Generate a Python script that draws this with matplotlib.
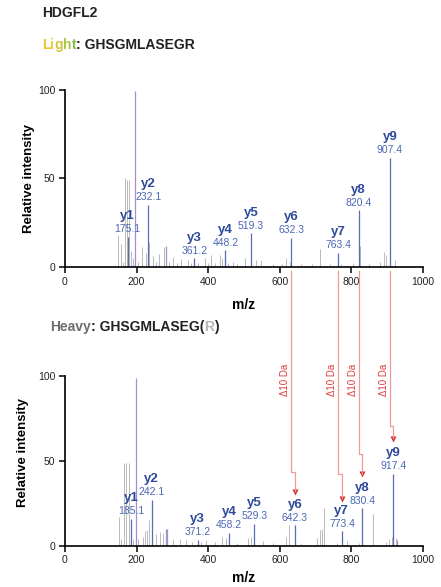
import matplotlib
matplotlib.use("Agg")
import matplotlib.pyplot as plt
from matplotlib.lines import Line2D

plt.rcParams["font.family"] = ["Liberation Sans", "DejaVu Sans"]

# -------------------------
# Data
# -------------------------
ion_names = ["y1", "y2", "y3", "y4", "y5", "y6", "y7", "y8", "y9"]

light_ion_mz = [175.1, 232.1, 361.2, 448.2, 519.3, 632.3, 763.4, 820.4, 907.4]
light_ion_int = [17, 35, 5, 9.5, 19, 16.5, 8, 32, 61.5]

heavy_ion_mz = [185.1, 242.1, 371.2, 458.2, 529.3, 642.3, 773.4, 830.4, 917.4]
heavy_ion_int = [16, 27, 3.5, 7.7, 13, 12, 8.5, 22, 42.5]

# base peak (purple) and other purple-ish peaks
light_base_mz = [196, 283]
light_base_int = [99, 12]
heavy_base_mz = [197, 281, 284, 928]
heavy_base_int = [99, 10, 10, 3.5]

# unassigned peaks (grey)
light_bg_mz = [148, 157, 162, 167, 172, 179, 185, 190, 205, 216, 225, 235, 246,
               255, 262, 276, 290, 302, 312, 325, 343, 352, 372, 390, 400, 409,
               420, 432, 438, 455, 469, 480, 502, 520, 534, 548, 580, 605, 618,
               628, 660, 690, 713, 740, 770, 804, 823, 850, 879, 890, 898, 909,
               921]
light_bg_int = [18, 13, 3, 50, 49, 49, 9, 5, 3, 11, 8, 14, 6,
                3, 7.5, 11, 3, 5.5, 2, 4.7, 4, 2, 2.5, 5, 2, 7,
                2, 6.5, 5, 2, 3, 1.5, 5, 1.5, 4, 4, 1.5, 1.5, 5,
                3, 1.5, 1.5, 10, 1.5, 1.5, 2, 12, 1.5, 3, 8.5, 6.5, 24,
                4]

heavy_bg_mz = [150, 157, 164, 171, 178, 190, 203, 217, 224, 230, 234, 255,
               266, 275, 301, 320, 338, 355, 380, 394, 420, 439, 450, 480,
               510, 519, 552, 580, 617, 626, 660, 705, 713, 718, 724, 760,
               789, 820, 859, 896, 905, 914, 924]
heavy_bg_int = [17, 4, 49, 49, 49, 4, 4, 5, 8.6, 9, 15, 7,
                8, 7.7, 4, 3.7, 3.3, 2, 2, 3.3, 2, 5.3, 4.3, 1.5,
                4.3, 5.3, 3, 1.5, 5.3, 12, 1.5, 4.3, 9, 9.6, 22, 1.5,
                3, 1.5, 18.5, 2.4, 3.7, 5, 4.3]

# arrows: level of the step and of the arrow tip, in heavy panel units
step_levels = [43.5, 42, 54, 70.5]
tip_levels = [30, 26, 40.5, 61.5]
shifted = ["y6", "y7", "y8", "y9"]

W, H = 441, 587
fig = plt.figure(figsize=(W / 100, H / 100), dpi=100)

ax_l = fig.add_axes([65 / W, 1 - 267 / H, 358 / W, 177.5 / H])
ax_h = fig.add_axes([65 / W, 1 - 545.7 / H, 358 / W, 169.7 / H])

GREY = "#bababa"
ION_LINE = "#5b6cb2"
BASE = "#a58fcc"
NAME_C = "#2f4a9c"
VAL_C = "#4b66b5"


def draw_panel(ax, bg_mz, bg_int, base_mz, base_int, ion_mz, ion_int, xpad):
    ax.vlines(bg_mz, 0, bg_int, color=GREY, lw=0.7)
    ax.vlines(base_mz, 0, base_int, color=BASE, lw=0.9)
    ax.vlines(ion_mz, 0, ion_int, color=ION_LINE, lw=0.9)
    for name, mz, y in zip(ion_names, ion_mz, ion_int):
        ax.annotate(f"{mz:.1f}", (mz, y), xytext=(0, 3.2), textcoords="offset points",
                    ha="center", va="baseline", fontsize=7.5, color=VAL_C)
        ax.annotate(name, (mz, y), xytext=(0, 12.6), textcoords="offset points",
                    ha="center", va="baseline", fontsize=9.5, fontweight="bold",
                    color=NAME_C)
    ax.set_xlim(0, 1000)
    ax.set_ylim(0, 100)
    ax.set_xticks([0, 200, 400, 600, 800, 1000])
    ax.set_yticks([0, 50, 100])
    for s in ["top", "right"]:
        ax.spines[s].set_visible(False)
    for s in ["left", "bottom"]:
        ax.spines[s].set_linewidth(1.2)
    ax.tick_params(direction="out", length=4, width=1.1, labelsize=7.5,
                   labelcolor="#222222", pad=3)
    ax.set_xlabel("m/z", fontsize=10, fontweight="bold", labelpad=xpad)
    ax.set_ylabel("Relative intensity", fontsize=9.5, fontweight="bold")


draw_panel(ax_l, light_bg_mz, light_bg_int, light_base_mz, light_base_int,
           light_ion_mz, light_ion_int, 8)
draw_panel(ax_h, heavy_bg_mz, heavy_bg_int, heavy_base_mz, heavy_base_int,
           heavy_ion_mz, heavy_ion_int, 4)
ax_l.yaxis.set_label_coords(-0.085, 0.5)
ax_h.yaxis.set_label_coords(-0.10, 0.55)

# -------------------------
# Titles with coloured pieces
# -------------------------
renderer = fig.canvas.get_renderer()


def draw_pieces(x_px, y_px, pieces, size=10):
    x = x_px
    for s, c in pieces:
        t = fig.text(x / W, 1 - y_px / H, s, color=c, fontsize=size,
                     fontweight="bold", ha="left", va="center")
        x += t.get_window_extent(renderer).width


draw_pieces(42, 13, [("HDGFL2", "#222222")])
draw_pieces(42, 45, [("L", "#f0c22e"), ("i", "#e9c935"), ("g", "#cfc83c"),
                     ("h", "#a8c442"), ("t", "#86bb4a"),
                     (": GHSGMLASEGR", "#222222")])
draw_pieces(50, 327, [("Heavy", "#6e6e6e"), (": GHSGMLASEG(", "#222222"),
                      ("R", "#b5b5b5"), (")", "#222222")])

# -------------------------
# Delta 10 Da arrows from light to heavy ions
# -------------------------
to_fig = fig.transFigure.inverted()
for name, step, tip in zip(shifted, step_levels, tip_levels):
    i = ion_names.index(name)
    mz_l, mz_h = light_ion_mz[i], heavy_ion_mz[i]
    p0 = ax_l.transData.transform((mz_l, -2))
    p1 = ax_h.transData.transform((mz_l, step))
    p2 = ax_h.transData.transform((mz_h, step))
    p3 = ax_h.transData.transform((mz_h, tip + 2))
    pts = to_fig.transform([p0, p1, p2, p3])
    fig.add_artist(Line2D(pts[:, 0], pts[:, 1], color="#ef9a9a", lw=0.9,
                          transform=fig.transFigure))
    ax_h.plot(mz_h, tip + 1.5, marker="v", ms=4.5, color="#d62a2a", mec="none",
              clip_on=False)
    tx = (p0[0] - 6) / W
    fig.text(tx, 1 - 380 / H, "Δ10 Da", rotation=90, fontsize=7, color="#dd3b3b",
             ha="center", va="center")

fig.savefig("out.png", dpi=100)
